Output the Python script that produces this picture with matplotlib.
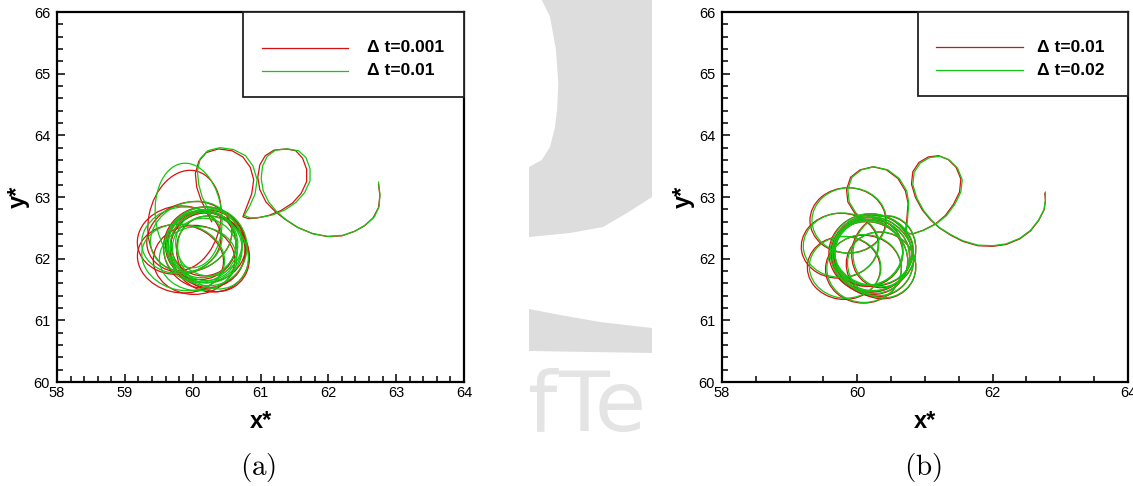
import matplotlib.pyplot as plt
from matplotlib.patches import Ellipse, Polygon, Rectangle
from matplotlib.lines import Line2D
from matplotlib.ticker import MultipleLocator

plt.rcParams['font.family'] = ['Liberation Sans', 'DejaVu Sans']
plt.rcParams['mathtext.fontset'] = 'cm'

RED = '#d81010'
GREEN = '#10c810'

# ---- panel (a): drift path from the release point, through the two big loops
red_a_x = [62.74, 62.76, 62.74, 62.66, 62.53, 62.38, 62.20, 61.98, 61.76, 61.54, 61.36, 61.22,
           61.08, 60.99, 60.96, 60.99, 61.07, 61.20, 61.38, 61.52, 61.62, 61.68, 61.68, 61.60,
           61.47, 61.30, 61.12, 60.95, 60.82, 60.74, 60.80, 60.87, 60.90, 60.85, 60.74, 60.58,
           60.38, 60.20, 60.09, 60.04, 60.06, 60.12, 60.20, 60.28]
red_a_y = [63.20, 63.02, 62.83, 62.66, 62.53, 62.44, 62.37, 62.36, 62.41, 62.51, 62.64, 62.76,
           62.92, 63.12, 63.32, 63.52, 63.67, 63.76, 63.78, 63.75, 63.63, 63.45, 63.25, 63.06,
           62.90, 62.78, 62.70, 62.66, 62.65, 62.68, 62.85, 63.05, 63.28, 63.48, 63.65, 63.75,
           63.78, 63.72, 63.58, 63.38, 63.16, 62.96, 62.78, 62.60]
green_a_x = [62.74, 62.76, 62.75, 62.68, 62.55, 62.40, 62.22, 62.00, 61.78, 61.56, 61.38, 61.24,
             61.12, 61.04, 61.01, 61.03, 61.10, 61.22, 61.40, 61.56, 61.67, 61.73, 61.73, 61.65,
             61.52, 61.36, 61.18, 61.00, 60.85, 60.76, 60.84, 60.92, 60.95, 60.89, 60.78, 60.60,
             60.40, 60.22, 60.11, 60.07, 60.09, 60.14, 60.22, 60.30]
green_a_y = [63.24, 63.05, 62.85, 62.68, 62.55, 62.45, 62.38, 62.36, 62.40, 62.50, 62.63, 62.76,
             62.92, 63.10, 63.30, 63.50, 63.66, 63.76, 63.78, 63.75, 63.64, 63.46, 63.26, 63.07,
             62.91, 62.79, 62.71, 62.67, 62.66, 62.70, 62.85, 63.05, 63.28, 63.50, 63.67, 63.77,
             63.80, 63.75, 63.62, 63.42, 63.20, 63.00, 62.82, 62.62]

# ---- panel (a): loops of the trapped orbit (centre x, centre y, width, height, tilt)
red_a_loop_cx = [60.18, 60.22, 60.12, 60.25, 60.16, 60.20,
                 59.88, 59.80, 59.82, 60.02, 60.30, 59.95]
red_a_loop_cy = [62.18, 62.14, 62.22, 62.10, 62.24, 62.20,
                 62.62, 62.30, 62.00, 61.98, 62.08, 62.35]
red_a_loop_w = [1.22, 1.10, 1.04, 1.14, 0.96, 1.16,
                1.06, 1.24, 1.28, 1.20, 1.05, 1.30]
red_a_loop_h = [1.32, 1.22, 1.12, 1.30, 1.04, 1.18,
                1.64, 1.10, 1.10, 1.12, 1.25, 1.10]
red_a_loop_tilt = [0, 10, -10, 20, 0, -15,
                   -10, 15, -15, 0, 20, 30]

green_a_loop_cx = [60.17, 60.20, 60.14, 60.22, 60.18, 60.12, 60.24,
                   59.94, 59.84, 59.86, 60.08, 60.30, 59.98]
green_a_loop_cy = [62.22, 62.18, 62.24, 62.20, 62.15, 62.20, 62.26,
                   62.70, 62.30, 62.02, 62.00, 62.10, 62.36]
green_a_loop_w = [1.12, 1.05, 1.00, 1.16, 0.95, 1.08, 0.98,
                  0.98, 1.20, 1.24, 1.14, 1.00, 1.26]
green_a_loop_h = [1.22, 1.15, 1.10, 1.28, 1.02, 1.18, 1.08,
                  1.70, 1.06, 1.06, 1.04, 1.22, 1.08]
green_a_loop_tilt = [0, 15, -10, 5, 20, -20, 0,
                     5, 20, -20, 0, 25, 35]

# ---- panel (b): drift path
red_b_x = [62.77, 62.78, 62.76, 62.68, 62.56, 62.40, 62.20, 62.00, 61.78, 61.56, 61.38, 61.21,
           61.08, 60.96, 60.86, 60.80, 60.82, 60.91, 61.05, 61.20, 61.34, 61.46, 61.53, 61.51,
           61.42, 61.30, 61.15, 60.97, 60.81, 60.71, 60.73, 60.75, 60.71, 60.60, 60.43, 60.23,
           60.04, 59.90, 59.84, 59.86, 59.96, 60.10]
red_b_y = [63.06, 62.94, 62.79, 62.62, 62.45, 62.32, 62.23, 62.20, 62.21, 62.28, 62.38, 62.50,
           62.63, 62.79, 62.99, 63.21, 63.41, 63.56, 63.65, 63.67, 63.61, 63.48, 63.29, 63.08,
           62.88, 62.70, 62.56, 62.46, 62.40, 62.42, 62.62, 62.90, 63.10, 63.30, 63.44, 63.49,
           63.44, 63.32, 63.12, 62.92, 62.74, 62.60]
green_b_x = [62.78, 62.78, 62.76, 62.68, 62.56, 62.40, 62.20, 62.00, 61.78, 61.56, 61.38, 61.22,
             61.10, 60.98, 60.88, 60.82, 60.84, 60.93, 61.07, 61.22, 61.36, 61.48, 61.55, 61.53,
             61.44, 61.32, 61.16, 60.98, 60.82, 60.72, 60.74, 60.76, 60.73, 60.62, 60.45, 60.25,
             60.06, 59.92, 59.86, 59.88, 59.98, 60.12]
green_b_y = [63.08, 62.95, 62.80, 62.63, 62.46, 62.33, 62.24, 62.21, 62.22, 62.29, 62.39, 62.50,
             62.62, 62.78, 62.98, 63.20, 63.40, 63.55, 63.64, 63.66, 63.60, 63.47, 63.28, 63.08,
             62.88, 62.70, 62.56, 62.46, 62.40, 62.42, 62.62, 62.90, 63.10, 63.30, 63.44, 63.49,
             63.44, 63.32, 63.12, 62.92, 62.74, 62.60]

# ---- panel (b): loops of the trapped orbit
red_b_loop_cx = [60.19, 60.21, 60.16, 60.24, 60.14, 60.23, 60.18,
                 59.86, 59.74, 59.80, 60.09, 60.35, 60.39]
red_b_loop_cy = [62.09, 62.05, 62.11, 62.03, 62.09, 62.13, 62.01,
                 62.62, 62.21, 61.85, 61.83, 61.89, 62.11]
red_b_loop_w = [1.22, 1.12, 1.02, 1.16, 1.06, 1.19, 1.10,
                1.12, 1.14, 1.08, 1.12, 1.02, 0.94]
red_b_loop_h = [1.27, 1.17, 1.11, 1.31, 1.08, 1.15, 1.21,
                1.06, 1.05, 1.02, 1.10, 1.09, 1.17]
red_b_loop_tilt = [0, 15, -10, 20, 5, -15, 30,
                   0, 10, -10, 0, 20, -10]

green_b_loop_cx = [60.20, 60.22, 60.17, 60.25, 60.15, 60.24, 60.19,
                   59.88, 59.76, 59.82, 60.10, 60.36, 60.40]
green_b_loop_cy = [62.10, 62.06, 62.12, 62.04, 62.10, 62.14, 62.02,
                   62.62, 62.22, 61.86, 61.84, 61.90, 62.12]
green_b_loop_w = [1.20, 1.10, 1.00, 1.14, 1.05, 1.18, 1.08,
                  1.10, 1.12, 1.06, 1.10, 1.00, 0.92]
green_b_loop_h = [1.26, 1.16, 1.10, 1.30, 1.06, 1.14, 1.20,
                  1.06, 1.04, 1.00, 1.10, 1.08, 1.16]
green_b_loop_tilt = [0, 15, -10, 20, 5, -15, 30,
                     0, 10, -10, 0, 20, -10]

labels_a = ['\u0394 t=0.001', '\u0394 t=0.01']
labels_b = ['\u0394 t=0.01', '\u0394 t=0.02']


def draw_loops(ax, cx, cy, w, h, tilt, color):
    for x, y, ww, hh, t in zip(cx, cy, w, h, tilt):
        ax.add_patch(Ellipse((x, y), ww, hh, angle=t, fill=False,
                             edgecolor=color, linewidth=0.9, zorder=3))


def style_axes(ax, x_minor):
    ax.set_xlim(58, 64)
    ax.set_ylim(60, 66)
    ax.xaxis.set_minor_locator(MultipleLocator(x_minor))
    ax.yaxis.set_minor_locator(MultipleLocator(0.2))
    ax.tick_params(which='both', direction='in', top=False, right=False,
                   labelsize=10.5, width=1.1)
    ax.tick_params(which='major', length=6)
    ax.tick_params(which='minor', length=4)
    ax.tick_params(axis='y', pad=5)
    ax.tick_params(axis='x', pad=3)
    for sp in ax.spines.values():
        sp.set_linewidth(1.6)
    ax.set_xlabel('x*', fontsize=17, fontweight='bold', labelpad=7)
    ax.set_ylabel('y*', fontsize=17, fontweight='bold', labelpad=3)


def draw_key(ax, labels, box_x0, box_y0, line_x0, line_x1, text_x, rows):
    """Boxed key in the top-right corner, in axes fractions."""
    ax.add_patch(Rectangle((box_x0, box_y0), 1 - box_x0, 1 - box_y0, transform=ax.transAxes,
                           facecolor='white', edgecolor='#222222', linewidth=1.3,
                           zorder=6, clip_on=False))
    for lab, col, ry in zip(labels, (RED, GREEN), rows):
        ax.add_line(Line2D([line_x0, line_x1], [ry, ry], transform=ax.transAxes,
                           color=col, lw=0.9, zorder=7))
        ax.text(text_x, ry, lab, transform=ax.transAxes, fontsize=12.5, fontweight='bold',
                va='center', ha='left', zorder=7)


fig = plt.figure(figsize=(11.33, 4.86), dpi=100)

# faint logo showing through the gap between the two panels
wm = fig.add_axes([529 / 1133, 0, 123 / 1133, 1], zorder=0)
wm.set_xlim(529, 652)
wm.set_ylim(486, 0)
wm.axis('off')
wm.add_patch(Polygon([(541.7, 0), (652, 0), (652, 197), (627, 213), (603, 227), (570, 233),
                      (529, 237), (529, 167), (541.7, 160), (550, 147), (555, 127),
                      (557.3, 107), (558.3, 83), (556, 50), (550, 16.7)],
                     closed=True, facecolor='#dddddd', edgecolor='none'))
wm.add_patch(Polygon([(529, 309), (560, 315), (600, 322), (652, 328), (652, 353), (529, 351)],
                     closed=True, facecolor='#dddddd', edgecolor='none'))
wm.text(527, 431, 'f', fontsize=60, color='#e4e4e4', family='DejaVu Sans', va='baseline')
wm.text(558, 431, 'Te', fontsize=60, color='#e4e4e4', family='DejaVu Sans', va='baseline',
        clip_on=True)

ax_a = fig.add_axes([57 / 1133, 1 - 382 / 486, 407 / 1133, 370 / 486], zorder=1)
ax_b = fig.add_axes([722 / 1133, 1 - 382 / 486, 406 / 1133, 370 / 486], zorder=1)

# panel (a)
ax_a.plot(red_a_x, red_a_y, color=RED, lw=0.9, label=labels_a[0], zorder=3)
draw_loops(ax_a, red_a_loop_cx, red_a_loop_cy, red_a_loop_w, red_a_loop_h, red_a_loop_tilt, RED)
ax_a.plot(green_a_x, green_a_y, color=GREEN, lw=0.9, label=labels_a[1], zorder=4)
draw_loops(ax_a, green_a_loop_cx, green_a_loop_cy, green_a_loop_w, green_a_loop_h,
           green_a_loop_tilt, GREEN)
style_axes(ax_a, 0.2)
draw_key(ax_a, labels_a, 0.457, 0.770, 0.504, 0.715, 0.762, (0.903, 0.841))

# panel (b)
ax_b.plot(red_b_x, red_b_y, color=RED, lw=0.9, label=labels_b[0], zorder=3)
draw_loops(ax_b, red_b_loop_cx, red_b_loop_cy, red_b_loop_w, red_b_loop_h, red_b_loop_tilt, RED)
ax_b.plot(green_b_x, green_b_y, color=GREEN, lw=0.9, label=labels_b[1], zorder=4)
draw_loops(ax_b, green_b_loop_cx, green_b_loop_cy, green_b_loop_w, green_b_loop_h,
           green_b_loop_tilt, GREEN)
style_axes(ax_b, 0.5)
ax_b.set_xticks([58, 60, 62, 64])
draw_key(ax_b, labels_b, 0.483, 0.773, 0.527, 0.741, 0.776, (0.905, 0.843))

fig.text(258 / 1133, 1 - 467 / 486, r'$\mathrm{(a)}$', fontsize=21, ha='center', va='center')
fig.text(923 / 1133, 1 - 467 / 486, r'$\mathrm{(b)}$', fontsize=21, ha='center', va='center')

fig.savefig('out.png', dpi=100)
